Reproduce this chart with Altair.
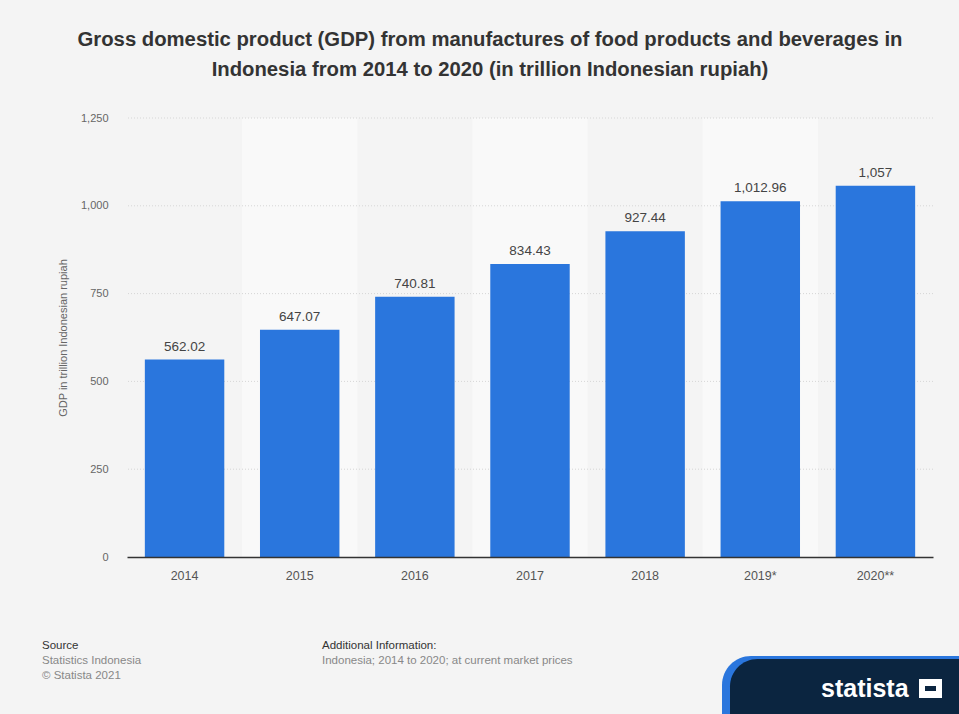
import altair as alt
import pandas as pd

years = ["2014", "2015", "2016", "2017", "2018", "2019*", "2020**"]
values = [562.02, 647.07, 740.81, 834.43, 927.44, 1012.96, 1057]
shaded = [False, True, False, True, False, True, False]

title_lines = ["Gross domestic product (GDP) from manufactures of food products and beverages in",
               "Indonesia from 2014 to 2020 (in trillion Indonesian rupiah)"]
y_title = "GDP in trillion Indonesian rupiah"
y_ticks = [0, 250, 500, 750, 1000, 1250]

df = pd.DataFrame({"year": years, "value": values, "shaded": shaded})
bands = df[df["shaded"]].copy()
bands["top"] = 1250
bands["bottom"] = 0
grid_df = pd.DataFrame({"tick": y_ticks[1:]})

FONT = "Liberation Sans"
W, H = 806, 439
LEFT, TOP = 127, 118

xscale = alt.Scale(domain=years, paddingInner=0.31, paddingOuter=0.155)
yscale = alt.Scale(domain=[0, 1250], nice=False)

band_layer = alt.Chart(bands).mark_bar(width={"band": 1.449}, color="#f9f9f9").encode(
    x=alt.X("year:N", scale=xscale, sort=years),
    y=alt.Y("top:Q", scale=yscale),
    y2="bottom:Q",
)

grid_layer = alt.Chart(grid_df).mark_rule(color="#d6d6d6", strokeDash=[1, 2], strokeWidth=1).encode(
    y=alt.Y("tick:Q", scale=yscale),
)

bars = alt.Chart(df).mark_bar(color="#2a76dd").encode(
    x=alt.X("year:N", scale=xscale, sort=years, title=None,
            axis=alt.Axis(labelAngle=0, labelAlign="center", labelFontSize=12.5, labelColor="#555",
                          labelFont=FONT, domain=True, domainColor="#333", domainWidth=1.5,
                          ticks=False, labelPadding=18, grid=False, bandPosition=0.5, zindex=1)),
    y=alt.Y("value:Q", scale=yscale, title=y_title,
            axis=alt.Axis(values=y_ticks, format=",d", labelFontSize=11, labelColor="#666",
                          labelFont=FONT, domain=False, ticks=False, labelPadding=19,
                          grid=False,
                          titleFont=FONT, titleFontSize=11, titleColor="#666",
                          titleFontWeight="normal", titlePadding=12)),
)

labels = alt.Chart(df).mark_text(dy=-13, fontSize=13.5, color="#444", font=FONT).encode(
    x=alt.X("year:N", scale=xscale, sort=years),
    y=alt.Y("value:Q", scale=yscale),
    text=alt.Text("value:Q", format=",.2~f"),
)

footer_items = [
    ("Source", 42, 646, "#333"),
    ("Statistics Indonesia", 42, 661, "#888"),
    ("\u00a9 Statista 2021", 42, 676, "#888"),
    ("Additional Information:", 322, 646, "#333"),
    ("Indonesia; 2014 to 2020; at current market prices", 322, 661, "#888"),
]
footer_layers = []
for txt, cx, cy, col in footer_items:
    footer_layers.append(
        alt.Chart(pd.DataFrame({"t": [txt]})).mark_text(
            align="left", baseline="middle", fontSize=11.5, color=col, font=FONT
        ).encode(x=alt.value(cx - LEFT), y=alt.value(cy - TOP), text="t:N")
    )

logo_bg_blue = alt.Chart(pd.DataFrame({"a": [1]})).mark_rect(
    color="#2a76dd", cornerRadiusTopLeft=70
).encode(x=alt.value(722 - LEFT), x2=alt.value(959 - LEFT),
         y=alt.value(656 - TOP), y2=alt.value(714 - TOP))
logo_bg = alt.Chart(pd.DataFrame({"a": [1]})).mark_rect(
    color="#0b2540", cornerRadiusTopLeft=70
).encode(x=alt.value(730 - LEFT), x2=alt.value(959 - LEFT),
         y=alt.value(659 - TOP), y2=alt.value(714 - TOP))
logo_text = alt.Chart(pd.DataFrame({"t": ["statista"]})).mark_text(
    align="left", baseline="middle", fontSize=25, fontWeight="bold", color="white", font=FONT
).encode(x=alt.value(821 - LEFT), y=alt.value(689 - TOP), text="t:N")
logo_icon = alt.Chart(pd.DataFrame({"a": [1]})).mark_rect(color="white").encode(
    x=alt.value(919 - LEFT), x2=alt.value(942 - LEFT),
    y=alt.value(679 - TOP), y2=alt.value(698 - TOP))
logo_icon_cut = alt.Chart(pd.DataFrame({"a": [1]})).mark_rect(color="#0b2540").encode(
    x=alt.value(925 - LEFT), x2=alt.value(936 - LEFT),
    y=alt.value(686 - TOP), y2=alt.value(691 - TOP))

chart = alt.layer(band_layer, grid_layer, bars, labels, *footer_layers,
                  logo_bg_blue, logo_bg, logo_text, logo_icon, logo_icon_cut).properties(
    width=W, height=H,
    autosize=alt.AutoSizeParams(type="none"),
    padding={"left": LEFT, "top": TOP, "right": 959 - LEFT - W, "bottom": 714 - TOP - H},
    title=alt.Title(text=title_lines, fontSize=20.3, fontWeight="bold", color="#333",
                    font=FONT, anchor="middle", dx=-40, offset=32, lineHeight=30),
    background="#f4f4f4",
).configure_view(stroke=None)

chart.save("out.html", embed_options={"renderer": "svg", "actions": False})
